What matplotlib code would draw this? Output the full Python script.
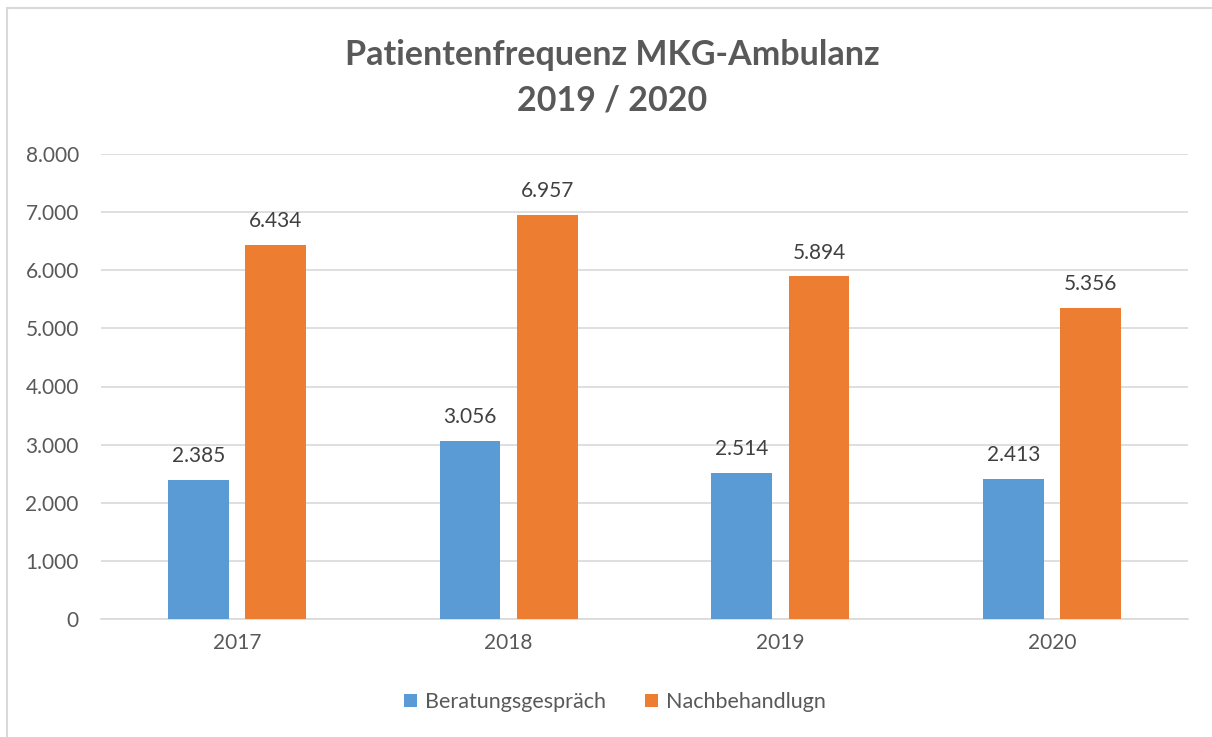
import matplotlib
matplotlib.use("Agg")
import matplotlib.pyplot as plt
import numpy as np
from matplotlib.patches import Rectangle

years = ["2017", "2018", "2019", "2020"]
beratung = [2385, 3056, 2514, 2413]
nachbeh = [6434, 6957, 5894, 5356]
series_names = ["Beratungsgespräch", "Nachbehandlugn"]
yticks = [0, 1000, 2000, 3000, 4000, 5000, 6000, 7000, 8000]

def fmt(v):
    return f"{v:,}".replace(",", ".")

plt.rcParams['font.family'] = ['Lato', 'DejaVu Sans']
txt = "#595959"
grid = "#d9d9d9"
blue = "#5b9bd5"
orange = "#ed7d31"

W, H = 1212, 737
fig = plt.figure(figsize=(W/100, H/100), dpi=100)
fig.patches.append(Rectangle((7/W, -0.2), 1.3, 1.2 - 8/H, transform=fig.transFigure,
                             fill=False, edgecolor=grid, linewidth=1.5))

ax = fig.add_axes([101/W, 1 - 619/H, (1188-101)/W, (619-154)/H])
x = np.arange(len(years))
w = 0.224
off = 0.142
b1 = ax.bar(x - off, beratung, width=w, color=blue, label=series_names[0], zorder=3)
b2 = ax.bar(x + off, nachbeh, width=w, color=orange, label=series_names[1], zorder=3)
for bars, vals in ((b1, beratung), (b2, nachbeh)):
    for r, v in zip(bars, vals):
        ax.annotate(fmt(v), (r.get_x() + r.get_width()/2, v), xytext=(0, 10),
                    textcoords="offset points", ha="center", va="bottom",
                    fontsize=15, color="#404040")

ax.set_xlim(-0.5, 3.5)
ax.set_ylim(0, 8000)
ax.set_yticks(yticks)
ax.set_yticklabels([fmt(v) for v in yticks], fontsize=15, color=txt)
ax.set_xticks(x)
ax.set_xticklabels(years, fontsize=15, color=txt)
ax.tick_params(length=0, pad=10)
ax.tick_params(axis='y', pad=16)
ax.grid(axis='y', color=grid, linewidth=1.2, zorder=0)
for s in ["top", "right", "left"]:
    ax.spines[s].set_visible(False)
ax.spines["bottom"].set_color(grid)
ax.spines["bottom"].set_linewidth(1.2)

fig.text(612/W, 1 - 55/H, "Patientenfrequenz MKG-Ambulanz", ha="center", va="center",
         fontsize=24.5, fontweight="bold", color=txt)
fig.text(612/W, 1 - 100/H, "2019 / 2020", ha="center", va="center",
         fontsize=24.5, fontweight="bold", color=txt)

fig.legend(handles=[b1, b2], labels=series_names, loc="center", bbox_to_anchor=(615/W, 1 - 702/H),
           ncol=2, frameon=False, fontsize=15.5, labelcolor=txt, handlelength=0.6, handleheight=0.6,
           handletextpad=0.4, columnspacing=1.8)

fig.savefig("out.png", dpi=100)
